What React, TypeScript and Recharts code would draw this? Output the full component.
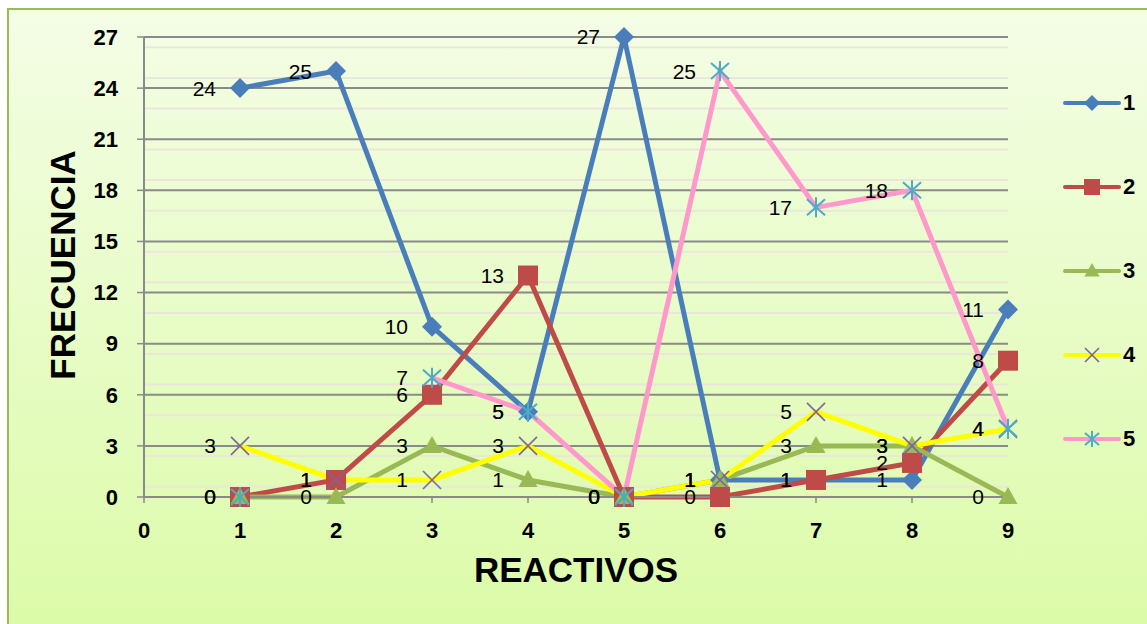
import { LineChart, Line, XAxis, YAxis, CartesianGrid, Legend, LabelList, Label } from "recharts"

const reactivos = [1, 2, 3, 4, 5, 6, 7, 8, 9]
const serie1 = [24, 25, 10, 5, 27, 1, 1, 1, 11]
const serie2 = [0, 1, 6, 13, 0, 0, 1, 2, 8]
const serie3 = [0, 0, 3, 1, 0, 1, 3, 3, 0]
const serie4 = [3, 1, 1, 3, 0, 1, 5, 3, 4]
const serie5 = [0, null, 7, 5, 0, 25, 17, 18, 4]
const seriesNames = ["1", "2", "3", "4", "5"]
const xTicks = [0, 1, 2, 3, 4, 5, 6, 7, 8, 9]
const yTicks = [0, 3, 6, 9, 12, 15, 18, 21, 24, 27]
// light gridlines every 0.6
const minorTicks = Array.from({ length: 46 }, (_, i) => Math.round(i * 6) / 10).filter((v) => v % 3 !== 0)

const data = reactivos.map((r, i) => ({
  x: r,
  s1: serie1[i],
  s2: serie2[i],
  s3: serie3[i],
  s4: serie4[i],
  s5: serie5[i],
}))

const series = [
  { key: "s1", line: "#4a7ebb", marker: "diamond", mcolor: "#4a7ebb" },
  { key: "s2", line: "#be4b48", marker: "square", mcolor: "#be4b48" },
  { key: "s3", line: "#98b954", marker: "triangle", mcolor: "#98b954" },
  { key: "s4", line: "#ffff00", marker: "x", mcolor: "#7e62a1" },
  { key: "s5", line: "#ff99cc", marker: "star", mcolor: "#4bacc6" },
]

const FONT = "'Liberation Sans', Arial, sans-serif"

function Marker({ kind, cx, cy, color, s = 10 }: any) {
  if (cx == null || cy == null) return null
  if (kind === "diamond")
    return <polygon points={`${cx},${cy - s} ${cx + s},${cy} ${cx},${cy + s} ${cx - s},${cy}`} fill={color} />
  if (kind === "square") return <rect x={cx - s} y={cy - s} width={s * 2} height={s * 2} fill={color} />
  if (kind === "triangle")
    return <polygon points={`${cx},${cy - s} ${cx + s * 0.95},${cy + s * 0.7} ${cx - s * 0.95},${cy + s * 0.7}`} fill={color} />
  if (kind === "x")
    return (
      <g stroke={color} strokeWidth={1.6}>
        <line x1={cx - s + 1} y1={cy - s + 1} x2={cx + s - 1} y2={cy + s - 1} />
        <line x1={cx - s + 1} y1={cy + s - 1} x2={cx + s - 1} y2={cy - s + 1} />
      </g>
    )
  return (
    <g stroke={color} strokeWidth={2}>
      <line x1={cx - s + 1} y1={cy - s + 2} x2={cx + s - 1} y2={cy + s - 2} />
      <line x1={cx - s + 1} y1={cy + s - 2} x2={cx + s - 1} y2={cy - s + 2} />
      <line x1={cx} y1={cy - s} x2={cx} y2={cy + s} />
    </g>
  )
}

function LegendBox() {
  return (
    <div style={{ fontFamily: FONT }}>
      {series.map((s, i) => (
        <div key={s.key} style={{ display: "flex", alignItems: "center", height: 20, marginBottom: i < 4 ? 64 : 0 }}>
          <svg width={58} height={20}>
            <line x1={2} y1={10} x2={56} y2={10} stroke={s.line} strokeWidth={4} strokeLinecap="round" />
            <Marker kind={s.marker} cx={29} cy={10} color={s.mcolor} s={8} />
          </svg>
          <span style={{ fontWeight: "bold", fontSize: 22, marginLeft: 2, color: "#000" }}>{seriesNames[i]}</span>
        </div>
      ))}
    </div>
  )
}

export default function App() {
  return (
    <div style={{ position: "absolute", left: 0, top: 0, width: 1147, height: 624, overflow: "hidden", background: "#fff" }}>
      <div
        style={{
          position: "absolute",
          left: 7,
          top: 8,
          width: 1160,
          height: 640,
          border: "2px solid #9bbb59",
          background: "linear-gradient(#f4fde6, #dbfba6)",
        }}
      />
      <div style={{ position: "absolute", left: 0, top: 0 }}>
        <LineChart width={1147} height={624} data={data} margin={{ top: 37, right: 59, left: 0, bottom: 7 }}>
          <CartesianGrid vertical={false} stroke="#ebe6dc" strokeWidth={2} horizontalValues={minorTicks} />
          <CartesianGrid vertical={false} stroke="#8a8a8a" strokeWidth={2} />
          <XAxis
            dataKey="x"
            type="number"
            domain={[0, 9]}
            ticks={xTicks}
            height={120}
            tickSize={6}
            tickMargin={19}
            axisLine={{ stroke: "#8a8a8a", strokeWidth: 2 }}
            tickLine={{ stroke: "#8a8a8a", strokeWidth: 1.5 }}
            tick={{ fill: "#000", fontSize: 22, fontWeight: "bold", fontFamily: FONT }}
          >
            <Label
              content={() => (
                <text x={576} y={582} textAnchor="middle" fontFamily={FONT} fontWeight="bold" fontSize={35} fill="#000">
                  REACTIVOS
                </text>
              )}
            />
          </XAxis>
          <YAxis
            type="number"
            domain={[0, 27]}
            ticks={yTicks}
            width={144}
            tickSize={7}
            tickMargin={19}
            axisLine={{ stroke: "#8a8a8a", strokeWidth: 2 }}
            tickLine={{ stroke: "#8a8a8a", strokeWidth: 1.5 }}
            tick={{ fill: "#000", fontSize: 22, fontWeight: "bold", fontFamily: FONT }}
          >
            <Label
              content={() => (
                <text
                  x={75}
                  y={265}
                  textAnchor="middle"
                  transform="rotate(-90 75 265)"
                  fontFamily={FONT}
                  fontWeight="bold"
                  fontSize={35}
                  fill="#000"
                >
                  FRECUENCIA
                </text>
              )}
            />
          </YAxis>
          <Legend
            layout="vertical"
            align="right"
            verticalAlign="top"
            width={80}
            content={() => <LegendBox />}
            wrapperStyle={{ left: 1063, right: "auto", top: 93 }}
          />
          {series.map((s, i) => (
            <Line
              key={s.key}
              dataKey={s.key}
              name={seriesNames[i]}
              stroke={s.line}
              strokeWidth={5}
              isAnimationActive={false}
              connectNulls={false}
              dot={(p: any) => <Marker key={`${s.key}-${p.index}`} kind={s.marker} cx={p.cx} cy={p.cy} color={s.mcolor} />}
              activeDot={false}
            >
              <LabelList dataKey={s.key} position="left" offset={24} fill="#000" fontSize={21} fontFamily={FONT} />
            </Line>
          ))}
        </LineChart>
      </div>
    </div>
  )
}
